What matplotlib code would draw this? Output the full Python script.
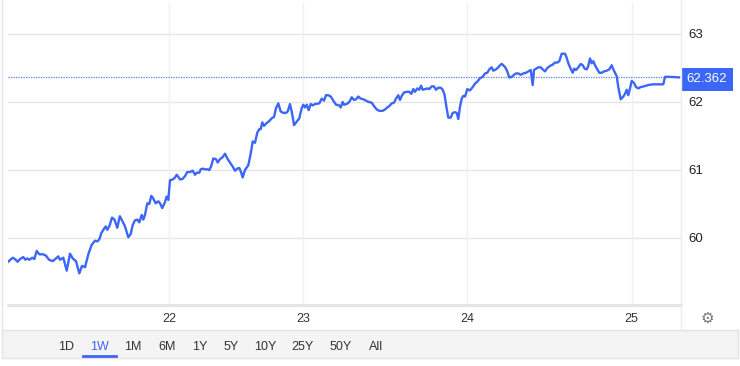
import numpy as np
import matplotlib
matplotlib.use("Agg")
import matplotlib.pyplot as plt
from matplotlib.patches import Rectangle

plt.rcParams['font.family'] = ['Liberation Sans', 'DejaVu Sans']

# chart position (trading-time axis) and price
t = [8, 12.7, 15, 17.7, 20, 23.3, 25.3, 27.3, 29.3, 32.3, 34.3, 36.7, 39.3, 43.3, 46, 49, 52.7, 56, 58.3, 60,
     63.3, 66.7, 70, 72.7, 76, 79.3, 82, 85, 88.3, 91.7, 95, 97.3, 99.3, 101.3, 103.3, 105.7, 107.3, 109.5, 112, 114.5,
     117.3, 119.8, 122.7, 125, 128.3, 130.7, 132.7, 135, 137.3, 139.3, 141.7, 143.3, 145, 147.3, 149.3, 151.3, 153.3, 155.7, 158.3, 160,
     162.3, 165, 166.7, 168.3, 170, 172.7, 175, 176.7, 178.3, 180, 182.7, 185, 187.3, 190, 192.7, 195, 196.7, 199.3, 200.7, 202.7,
     205, 207.3, 209.3, 211.3, 213.3, 216, 217.7, 220, 222.7, 225, 227.3, 230, 232.7, 235, 237.3, 239.3, 241, 242.7, 245, 248.3,
     250.7, 252.7, 255, 257.3, 259.3, 260.7, 262.3, 264, 266.7, 269.3, 271.7, 274, 276, 278.3, 280.7, 283.3, 286, 287.7, 290, 292,
     294, 296.7, 299.3, 301.7, 303.3, 305, 306.7, 308.7, 310.7, 312.7, 315, 319.3, 321.7, 324, 326, 328.3, 330.7, 333.3, 336, 339.3,
     340.7, 342.7, 344, 346.7, 349.3, 351.7, 354, 356, 358.3, 360.7, 363.3, 366, 368.7, 371.7, 374, 376.7, 379.3, 382.7, 385, 387.3,
     389.3, 391.7, 394, 396, 398.3, 400, 401.7, 404, 406.7, 409.3, 411.3, 413.3, 415, 417.3, 419.3, 421, 422.7, 425, 427.3, 429.3,
     431.7, 434, 436, 438.3, 440.7, 442.7, 444.5, 446.5, 448.3, 450.7, 452.7, 455, 456.7, 458.3, 460, 461.7, 463.3, 465, 467.3, 470,
     472.7, 475, 477.3, 480, 482.7, 485, 487.3, 489.3, 491.7, 493.3, 496, 498.3, 500, 501.7, 503.3, 505.3, 507.3, 509.3, 511.7, 514,
     516, 518.3, 520.7, 523.3, 526, 528.3, 530.7, 532.7, 534, 536, 538.3, 540.7, 542.7, 545, 547.3, 550, 552.7, 555, 557.3, 559.3,
     561.7, 565, 566.7, 568.3, 570.7, 572.7, 574.3, 576, 578.3, 580.7, 582.7, 584.7, 586.7, 588.3, 590, 591.7, 593.3, 595, 597.3, 599.3,
     601.7, 604, 606.7, 609.3, 611.7, 613.3, 615, 616.7, 618.3, 620.7, 623.3, 625, 626.7, 628.3, 630, 631.7, 634, 636, 638.3, 640.7,
     644, 648.3, 653.3, 658.3, 663.3, 665, 670, 679]
price = [59.65, 59.71, 59.69, 59.65, 59.69, 59.72, 59.68, 59.70, 59.68, 59.71, 59.69, 59.81, 59.76, 59.76, 59.74, 59.68, 59.66, 59.70, 59.73, 59.68,
         59.71, 59.52, 59.77, 59.70, 59.66, 59.48, 59.59, 59.57, 59.76, 59.90, 59.96, 59.95, 59.98, 60.07, 60.12, 60.17, 60.12, 60.18, 60.30, 60.27,
         60.15, 60.32, 60.24, 60.17, 60.01, 60.06, 60.19, 60.26, 60.27, 60.23, 60.34, 60.27, 60.34, 60.51, 60.50, 60.62, 60.58, 60.51, 60.54, 60.51,
         60.44, 60.53, 60.61, 60.56, 60.85, 60.86, 60.89, 60.93, 60.90, 60.86, 60.87, 60.91, 60.97, 60.97, 60.99, 60.93, 60.96, 60.96, 61.01, 61.02,
         61.01, 61.01, 61.00, 61.06, 61.17, 61.16, 61.11, 61.16, 61.19, 61.24, 61.17, 61.11, 61.05, 60.99, 61.02, 61.03, 60.97, 60.89, 61.00, 61.07,
         61.24, 61.42, 61.40, 61.55, 61.60, 61.60, 61.70, 61.65, 61.69, 61.72, 61.76, 61.78, 61.91, 61.98, 61.86, 61.84, 61.84, 61.86, 61.97, 61.84,
         61.66, 61.71, 61.76, 61.91, 61.96, 61.92, 61.96, 61.88, 61.97, 61.95, 61.97, 61.98, 62.05, 62.02, 62.10, 62.10, 62.08, 62.02, 61.96, 61.95,
         61.92, 62.00, 61.96, 61.97, 62.00, 62.07, 62.03, 62.04, 62.08, 62.05, 62.04, 62.02, 62.00, 61.99, 61.94, 61.89, 61.87, 61.87, 61.89, 61.92,
         61.94, 61.98, 61.99, 62.05, 62.10, 62.03, 62.09, 62.14, 62.15, 62.15, 62.12, 62.19, 62.15, 62.20, 62.18, 62.24, 62.18, 62.19, 62.20, 62.19,
         62.23, 62.23, 62.18, 62.21, 62.21, 62.18, 62.11, 61.92, 61.77, 61.77, 61.84, 61.85, 61.84, 61.75, 61.93, 62.05, 62.09, 62.08, 62.19, 62.17,
         62.22, 62.27, 62.30, 62.35, 62.37, 62.42, 62.43, 62.48, 62.51, 62.46, 62.48, 62.51, 62.54, 62.56, 62.54, 62.51, 62.45, 62.36, 62.37, 62.40,
         62.42, 62.42, 62.40, 62.42, 62.43, 62.45, 62.47, 62.25, 62.47, 62.49, 62.51, 62.51, 62.48, 62.45, 62.50, 62.53, 62.55, 62.58, 62.58, 62.60,
         62.71, 62.71, 62.65, 62.57, 62.49, 62.43, 62.49, 62.47, 62.51, 62.56, 62.54, 62.49, 62.48, 62.53, 62.64, 62.57, 62.60, 62.54, 62.48, 62.43,
         62.43, 62.45, 62.46, 62.48, 62.54, 62.48, 62.43, 62.38, 62.22, 62.04, 62.08, 62.12, 62.18, 62.10, 62.20, 62.31, 62.28, 62.22, 62.20, 62.22,
         62.23, 62.25, 62.26, 62.26, 62.26, 62.37, 62.37, 62.362]
last_price = 62.362

day_pos = [169.3, 303.3, 467.3, 631.7]
day_labels = ['22', '23', '24', '25']
y_ticks = [60, 61, 62, 63]
ranges = ['1D', '1W', '1M', '6M', '1Y', '5Y', '10Y', '25Y', '50Y', 'All']
range_x = [66, 99, 133, 167, 200, 231, 265, 302, 341, 376]
active = '1W'

BLUE = '#3c66f5'
W, H = 740, 366


def fx(x):
    return x / W


def fy(y):
    return 1 - y / H


fig = plt.figure(figsize=(W / 100, H / 100), dpi=100)
ax = fig.add_axes([fx(8), fy(305), fx(681) - fx(8), fy(3) - fy(305)])

ax.plot(t, price, color=BLUE, lw=1.7, solid_joinstyle='round', zorder=3)
ax.axhline(last_price, color='#5b7ff7', lw=0.9, ls=(0, (1, 1)), zorder=2)

ax.set_xlim(8, 681)
ax.set_ylim(60 - 67 / 68, 63 + 31 / 68)
for v in y_ticks:
    ax.axhline(v, color='#e6e6e6', lw=1, zorder=1)
for p in day_pos:
    ax.axvline(p, color='#f1f1f1', lw=1, zorder=1)

for s in ['top', 'left', 'right']:
    ax.spines[s].set_visible(False)
ax.spines['bottom'].set_color('#e4e4e4')
ax.spines['bottom'].set_linewidth(2)

ax.set_xticks(day_pos)
ax.set_xticklabels(day_labels)
ax.set_yticks(y_ticks)
ax.set_yticklabels([str(v) for v in y_ticks])
ax.yaxis.tick_right()
ax.tick_params(axis='y', length=0, pad=5, labelsize=9.5, labelcolor='#222222')
ax.tick_params(axis='x', length=0, pad=6, labelsize=9, labelcolor='#333333')

# right border of plot area
fig.add_artist(plt.Line2D([fx(681), fx(681)], [fy(0), fy(330)], color='#ececec', lw=1))
# left container border
fig.add_artist(plt.Line2D([fx(1.5), fx(1.5)], [fy(0), fy(358)], color='#e6e6e6', lw=1))

# last price tag
fig.add_artist(Rectangle((fx(681), fy(91)), fx(733) - fx(681), fy(68) - fy(91),
                         transform=fig.transFigure, facecolor=BLUE, edgecolor='none'))
fig.text(fx(707), fy(79.5), f'{last_price:.3f}', color='white', fontsize=9.5,
         ha='center', va='center')

# settings gear
fig.text(fx(707), fy(318), '\u2699', color='#777777', fontsize=11, ha='center', va='center',
         family=['DejaVu Sans'])

# range selector bar
fig.add_artist(Rectangle((fx(1.5), fy(358)), fx(738) - fx(1.5), fy(330) - fy(358),
                         transform=fig.transFigure, facecolor='#f4f4f4', edgecolor='#e2e2e2', lw=1))
for lab, x in zip(ranges, range_x):
    c = BLUE if lab == active else '#333333'
    fig.text(fx(x), fy(347), lab, color=c, fontsize=9, ha='center', va='center')
    if lab == active:
        fig.add_artist(plt.Line2D([fx(x - 16), fx(x + 17)], [fy(356), fy(356)], color=BLUE, lw=2))

fig.savefig('out.png', dpi=100)
